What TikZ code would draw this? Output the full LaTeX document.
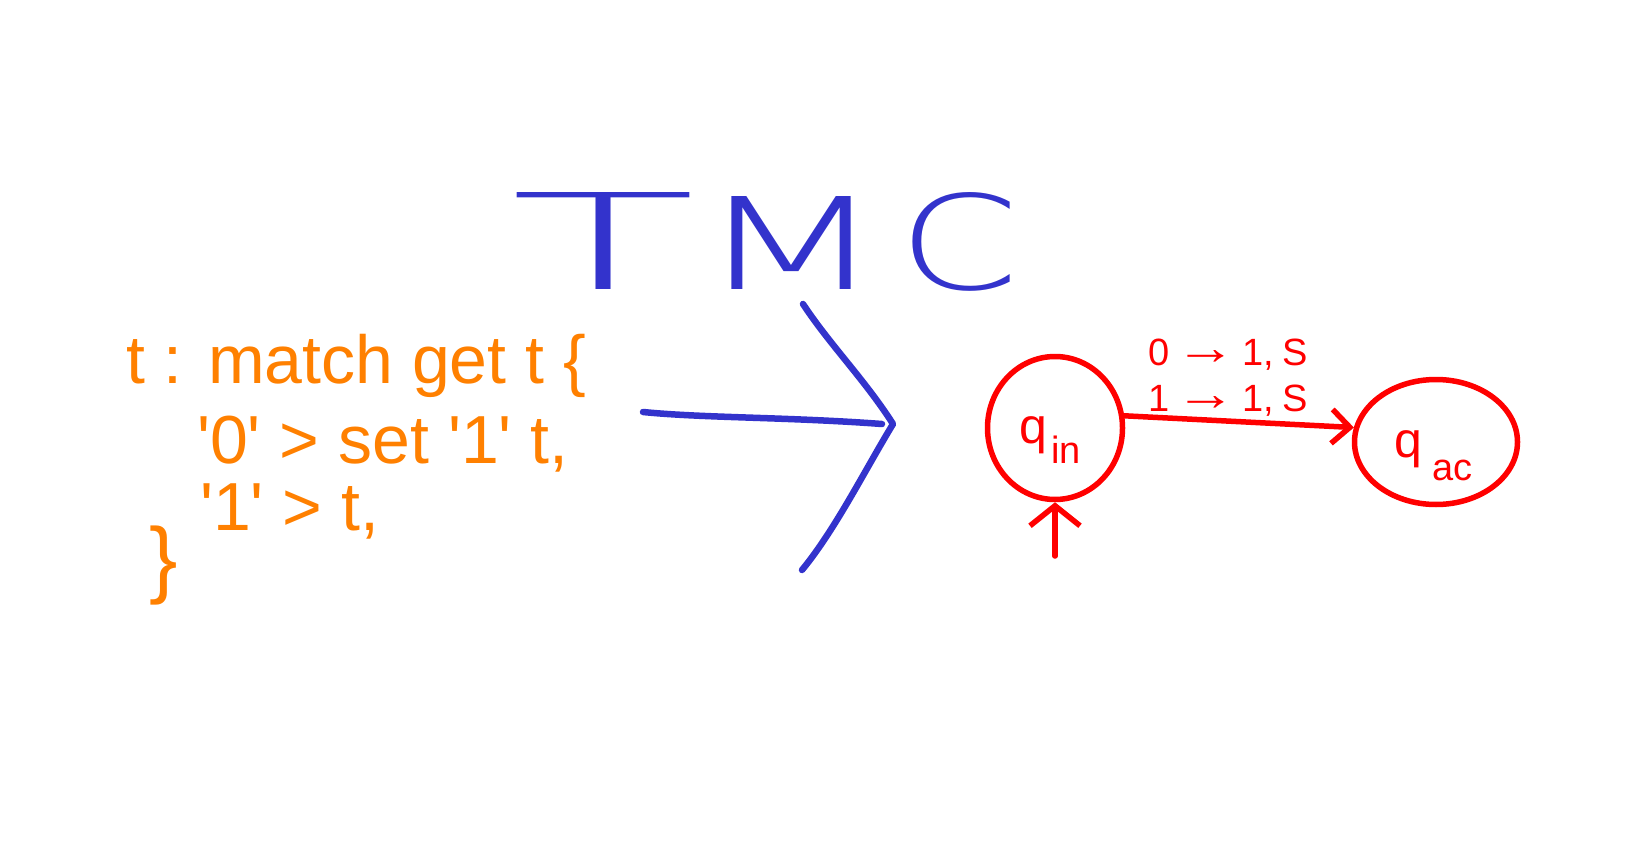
\documentclass[tikz,border=0pt]{standalone}
\usepackage{fontspec}
\setmainfont{Liberation Sans}
\IfFontExistsTF{DejaVuSans-ExtraLight.ttf}{\newfontfamily\tmcfont{DejaVuSans-ExtraLight.ttf}}{%
 \IfFontExistsTF{DejaVu Sans ExtraLight}{\newfontfamily\tmcfont{DejaVu Sans ExtraLight}}{%
  \IfFontExistsTF{Fira Sans ExtraLight}{\newfontfamily\tmcfont{Fira Sans ExtraLight}}{%
   \IfFontExistsTF{Fira Sans Light}{\newfontfamily\tmcfont{Fira Sans Light}}{%
    \IfFontExistsTF{Lato Light}{\newfontfamily\tmcfont{Lato Light}}{%
     \newfontfamily\tmcfont{Liberation Sans}}}}}}
\usetikzlibrary{arrows.meta,shapes.geometric}
\definecolor{codeorange}{RGB}{255,128,0}
\definecolor{penblue}{RGB}{51,51,204}
\definecolor{penred}{RGB}{255,0,0}
\newcommand{\tmcletter}[4]{\makebox[#1][l]{\resizebox{#2}{#3}{#4}}}
\newcommand{\longarr}{\raisebox{1pt}{\scalebox{1.6}[1.3]{→}}}
\begin{document}
\begin{tikzpicture}[x=1pt,y=-1pt,
  code/.style={text=codeorange,anchor=base west,inner sep=0pt,font=\fontsize{68}{68}\selectfont},
  tmc/.style={text=penblue,anchor=base west,inner sep=0pt,font=\tmcfont\fontsize{130}{130}\selectfont},
  blueline/.style={draw=penblue,line width=6.5pt,line cap=round,line join=round},
  redline/.style={draw=penred,line width=5.5pt,line cap=round,line join=round},
  state/.style={ellipse,draw=penred,line width=5.5pt,inner sep=0pt},
  qlab/.style={text=penred,anchor=base west,inner sep=0pt,font=\fontsize{50}{50}\selectfont},
  elab/.style={text=penred,inner sep=0pt,font=\fontsize{38}{38}\selectfont},
  initarrow/.style={-{Straight Barb[length=20pt,width=50pt]}},
  edgearrow/.style={-{Straight Barb[length=18pt,width=34pt]}}
]
\fill[white] (0,0) rectangle (1644,864);
\useasboundingbox (0,0) rectangle (1644,864);

% title
\node[tmc] (tmc) at (510,289) {\tmcletter{186pt}{186pt}{97pt}{T}\tmcletter{202pt}{190pt}{93pt}{M}\resizebox{121pt}{97pt}{C}};

% code
\node[code] (code1) at (126,383) {t : match get t \{};
\node[code] (code2) at (197,463) {\textquotesingle 0\textquotesingle{} > set \textquotesingle 1\textquotesingle{} t,};
\node[code] (code3) at (200,530) {\textquotesingle 1\textquotesingle{} > t,};
\node[text=codeorange,inner sep=0pt,font=\fontsize{85}{85}\selectfont] (code4) at (164,566) {\}};

% big blue arrow
\coordinate (arrS) at (643,412);
\coordinate (arrE) at (882,424);
\coordinate (arrT) at (893,424);
\coordinate (headU) at (803,304);
\coordinate (headL) at (802,570);
\draw[blueline] (arrS) .. controls (703,418) and (787,417) .. (arrE);
\draw[blueline] (headU) .. controls (830,345) and (865,380) .. (arrT)
  .. controls (865,470) and (835,530) .. (headL);

% automaton
\node[state,minimum width=135pt,minimum height=143pt] (qin) at (1055,428) {};
\node[state,minimum width=163pt,minimum height=125pt] (qac) at (1436,442) {};
\node[qlab] (qinlab) at (1019,443) {q\hspace{4pt}\raisebox{-20pt}{\fontsize{38}{38}\selectfont in}};
\node[qlab] (qaclab) at (1394,457) {q\hspace{10pt}\raisebox{-23pt}{\fontsize{38}{38}\selectfont ac}};
\coordinate (init) at (1055,556);
\draw[redline,initarrow] (init) -- (qin.south);
\draw[redline,edgearrow] (qin.10) -- (qac.170);
\node[elab] (lab0) at (1228,355) {0\hspace{6pt}\longarr\hspace{6pt}1,\hspace{8pt}S};
\node[elab] (lab1) at (1228,401) {1\hspace{6pt}\longarr\hspace{6pt}1,\hspace{8pt}S};
\end{tikzpicture}
\end{document}
